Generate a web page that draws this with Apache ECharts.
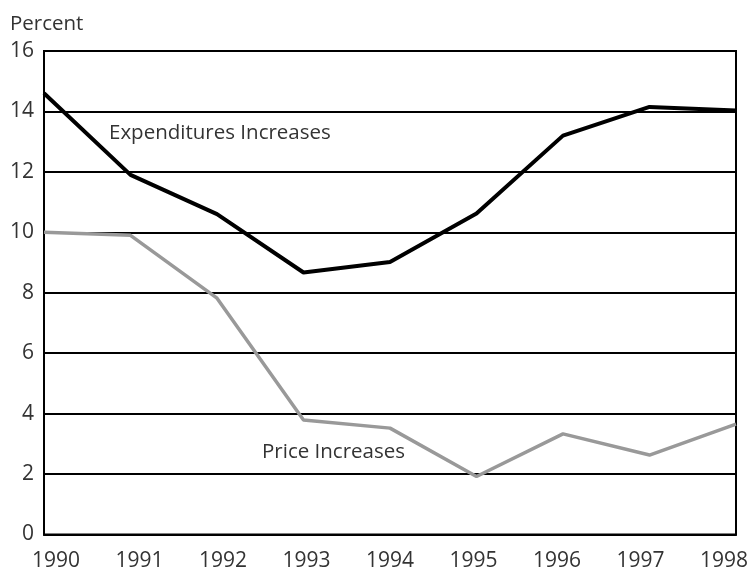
<!DOCTYPE html>
<html>
<head>
<meta charset="utf-8">
<script src="https://cdn.jsdelivr.net/npm/echarts@6/dist/echarts.min.js"></script>
<style>
  html, body { margin: 0; padding: 0; background: #fff; }
  #main { width: 751px; height: 572px; }
</style>
</head>
<body>
<div id="main"></div>
<script>
// years on the x axis
const years = ["1990", "1991", "1992", "1993", "1994", "1995", "1996", "1997", "1998"];
// percent change per year
const expenditures = [14.6, 11.9, 10.6, 8.67, 9.02, 10.62, 13.2, 14.15, 14.03];
const prices = [10.0, 9.9, 7.82, 3.79, 3.52, 1.92, 3.33, 2.63, 3.65];

const font = "'Open Sans', 'DejaVu Sans', sans-serif";
const textColor = "#333";

const chart = echarts.init(document.getElementById("main"));

const option = {
  animation: false,
  grid: [
    // plot frame
    { left: 44, right: 15, top: 51, bottom: 37.5, show: true, borderColor: "#000", borderWidth: 2 },
    // the year labels are spread a bit narrower than the plot
    { left: 56, right: 25, top: 51, bottom: 37.5 }
  ],
  graphic: [
    {
      type: "text",
      left: 10,
      top: 14,
      style: { text: "Percent", font: "20.5px " + font, fill: textColor }
    },
    {
      type: "text",
      left: 109,
      top: 123,
      style: { text: "Expenditures Increases", font: "20.5px " + font, fill: textColor }
    },
    {
      type: "text",
      left: 262,
      top: 442,
      style: { text: "Price Increases", font: "20.5px " + font, fill: textColor }
    }
  ],
  xAxis: [
    {
      type: "category",
      gridIndex: 0,
      data: years,
      boundaryGap: false,
      axisLine: { lineStyle: { color: "#000", width: 2 } },
      axisTick: { show: false },
      axisLabel: { show: false },
      splitLine: { show: false }
    },
    {
      type: "category",
      gridIndex: 1,
      data: years,
      boundaryGap: false,
      axisLine: { show: false },
      axisTick: { show: false },
      axisLabel: { margin: 18, fontSize: 21, fontFamily: font, color: textColor },
      splitLine: { show: false }
    }
  ],
  yAxis: [
    {
      type: "value",
      gridIndex: 0,
      min: 0,
      max: 16,
      interval: 2,
      axisLine: { show: true, lineStyle: { color: "#000", width: 2 } },
      axisTick: { show: false },
      axisLabel: { margin: 10, fontSize: 21, fontFamily: font, color: textColor },
      splitLine: { show: true, lineStyle: { color: "#000", width: 2 } }
    },
    {
      type: "value",
      gridIndex: 1,
      show: false
    }
  ],
  series: [
    {
      name: "Expenditures Increases",
      type: "line",
      xAxisIndex: 0,
      yAxisIndex: 0,
      data: expenditures,
      symbol: "none",
      lineStyle: { color: "#000", width: 4 },
      z: 4
    },
    {
      name: "Price Increases",
      type: "line",
      xAxisIndex: 0,
      yAxisIndex: 0,
      data: prices,
      symbol: "none",
      lineStyle: { color: "#999", width: 3.5 },
      z: 3
    }
  ]
};

chart.setOption(option);
</script>
</body>
</html>
